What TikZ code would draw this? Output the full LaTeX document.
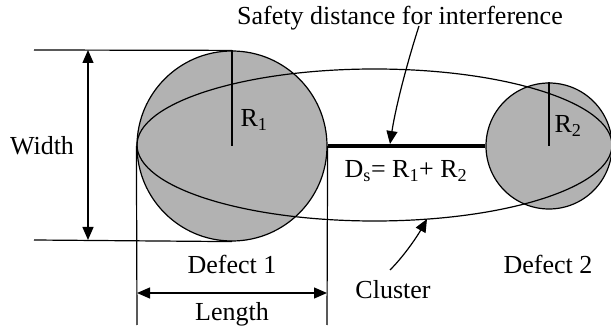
\documentclass[tikz,border=0pt]{standalone}
\usepackage{fontspec}
\setmainfont{Liberation Serif}
\usetikzlibrary{arrows.meta, positioning, calc}
\definecolor{defectgray}{RGB}{178,178,178}

\tikzset{
  defect/.style={circle, draw, line width=1.2pt, fill=defectgray, inner sep=0pt},
  dimarrow/.style={{Triangle[length=13pt,width=11pt]}-{Triangle[length=13pt,width=11pt]}, line width=1.2pt},
  callout/.style={-{Triangle[length=13pt,width=11pt]}, line width=1.2pt},
  lbl/.style={inner sep=1pt, font=\fontsize{26}{29}\selectfont}
}

\begin{document}
\begin{tikzpicture}[x=1pt, y=-1pt, line width=1.2pt]
  \useasboundingbox (0,0) rectangle (611,331);
  % Defects
  \node[defect, minimum size=190pt] (d1) at (232,146) {};
  \node[defect, minimum size=126pt] (d2) at (549,146) {};
  % Cluster
  \draw (374.5,145) ellipse [x radius=237.5, y radius=76];
  % Radii
  \draw (d1.center) -- (d1.north);
  \draw (d2.center) -- (d2.north);
  \node[lbl] (r1) at (254,120) {R\textsubscript{1}};
  \node[lbl] (r2) at (568,126) {R\textsubscript{2}};
  % Safety distance
  \draw[line width=4pt] (d1.east) -- (d2.west);
  \coordinate (ds) at (390,144);
  \node[lbl] (dslbl) at (406,171) {D\textsubscript{s}= R\textsubscript{1}+ R\textsubscript{2}};
  \node[lbl] (title) at (400,18) {Safety distance for interference};
  \coordinate (tstart) at (419,26);
  \draw[callout] (tstart) .. controls (408,60) and (396,105) .. (ds);
  % Width
  \coordinate (wt) at (34,50);
  \coordinate (wb) at (34,240);
  \draw (wt) -- (d1.north);
  \draw (wb) -- (d1.south);
  \coordinate (wat) at (88,50);
  \coordinate (wab) at (88,240);
  \draw[dimarrow] (wat) -- (wab);
  \node[lbl] (width) at (42,146) {Width};
  % Length
  \coordinate (ll) at (137,325);
  \coordinate (lr) at (327,325);
  \draw (d1.west) -- (ll);
  \draw (d1.east) -- (lr);
  \coordinate (lal) at (137,293);
  \coordinate (lar) at (327,293);
  \draw[dimarrow] (lal) -- (lar);
  \node[lbl] (length) at (232,314) {Length};
  \node[lbl] (def1) at (232,264) {Defect 1};
  \node[lbl] (def2) at (548,264) {Defect 2};
  % Cluster label
  \node[lbl] (cluster) at (393,290) {Cluster};
  \coordinate (cend) at (427,219);
  \draw[callout] (390,270) .. controls (405,255) and (418,235) .. (cend);
\end{tikzpicture}
\end{document}
